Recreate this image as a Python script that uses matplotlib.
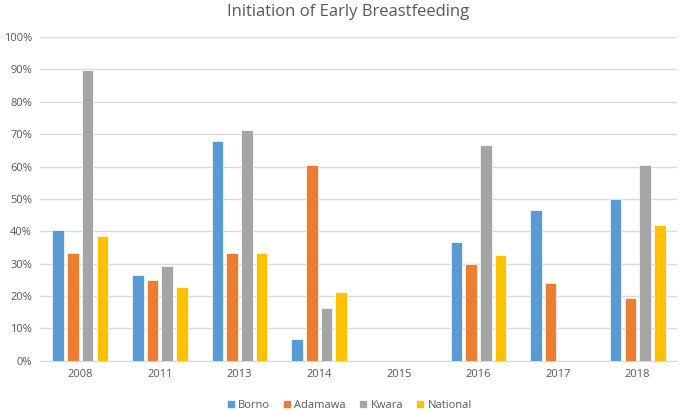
import numpy as np
import matplotlib.pyplot as plt

# values (fractions, nan = no bar)
years = ['2008', '2011', '2013', '2014', '2015', '2016', '2017', '2018']
borno = [0.403, 0.265, 0.678, 0.067, np.nan, 0.367, 0.467, 0.500]
adamawa = [0.333, 0.251, 0.333, 0.605, np.nan, 0.298, 0.240, 0.195]
kwara = [0.898, 0.294, 0.714, 0.163, np.nan, 0.666, np.nan, 0.605]
national = [0.385, 0.229, 0.332, 0.214, np.nan, 0.327, np.nan, 0.420]

series_names = ['Borno', 'Adamawa', 'Kwara', 'National']
colors = ['#5B9BD5', '#ED7D31', '#A5A5A5', '#FFC000']

plt.rcParams['font.family'] = ['Open Sans', 'DejaVu Sans']

fig = plt.figure(figsize=(6.85, 4.11), dpi=100)
ax = fig.add_axes([0.059, 0.122, 0.93, 0.788])

x = np.arange(len(years))
pitch = 0.185
width = 0.145
for i, (vals, name, col) in enumerate(zip([borno, adamawa, kwara, national], series_names, colors)):
    ax.bar(x + (i - 1.5) * pitch, vals, width, color=col, edgecolor='white',
           linewidth=0.5, label=name, zorder=3)

ax.set_xlim(-0.5, len(years) - 0.5)
ax.set_ylim(0, 1.0)
ax.set_yticks(np.arange(0, 1.01, 0.1))
ax.set_yticklabels([f'{int(round(v * 100))}%' for v in np.arange(0, 1.01, 0.1)])
ax.set_xticks(x)
ax.set_xticklabels(years)
ax.grid(axis='y', color='#D9D9D9', linewidth=1, zorder=0)
ax.tick_params(axis='both', length=0, labelsize=8, colors='#595959', pad=6)
for s in ['top', 'right', 'left']:
    ax.spines[s].set_visible(False)
ax.spines['bottom'].set_color('#D9D9D9')

fig.suptitle('Initiation of Early Breastfeeding', x=0.508, y=0.99, fontsize=12, color='#595959')

ax.legend(loc='lower center', bbox_to_anchor=(0.485, -0.185), ncol=4, frameon=False,
          fontsize=8, labelcolor='#595959', handlelength=0.7, handleheight=0.7,
          handletextpad=0.3, columnspacing=1.2)

fig.savefig('out.png', dpi=100)
